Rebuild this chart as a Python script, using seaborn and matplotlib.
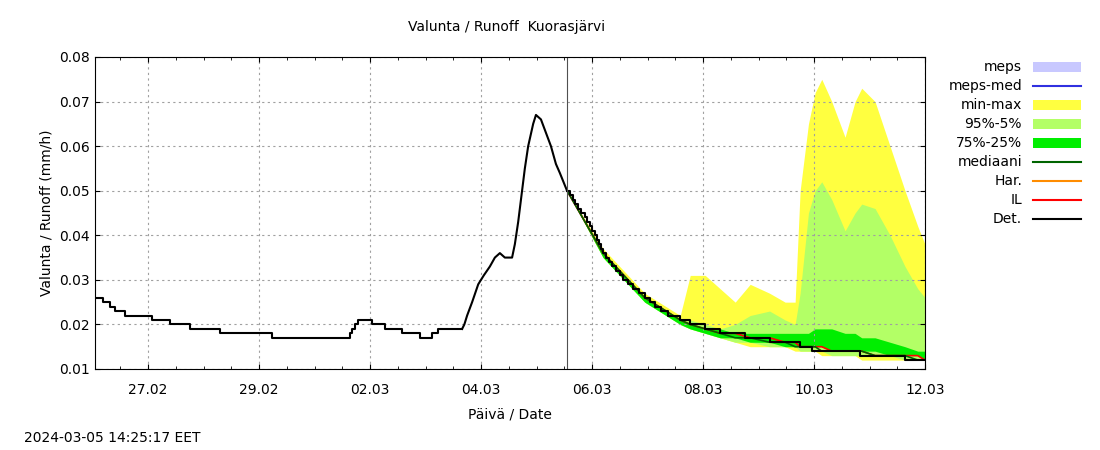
import matplotlib
matplotlib.use("Agg")
import matplotlib.pyplot as plt
import seaborn as sns
from matplotlib.patches import Rectangle
from matplotlib.lines import Line2D

# days since 27.02.2024 00:00
hist_t = [-0.95,-0.81,-0.68,-0.59,-0.41,0.07,0.40,0.76,1.30,2.23,3.55,3.64,3.68,3.73,3.78,4.04,4.27,4.58,4.90,5.12,5.23,5.66]
hist_v = [0.026,0.025,0.024,0.023,0.022,0.021,0.020,0.019,0.018,0.017,0.017,0.018,0.019,0.020,0.021,0.020,0.019,0.018,0.017,0.018,0.019,0.019]
peak_t = [5.66,5.70,5.75,5.84,5.95,6.05,6.16,6.25,6.34,6.43,6.56,6.61,6.67,6.74,6.79,6.85,6.94,6.99,7.08,7.17,7.26,7.35,7.42,7.55]
peak_v = [0.019,0.020,0.022,0.025,0.029,0.031,0.033,0.035,0.036,0.035,0.035,0.038,0.043,0.050,0.055,0.060,0.065,0.067,0.066,0.063,0.060,0.056,0.054,0.050]
rec_t = [7.55,7.60,7.65,7.69,7.75,7.81,7.87,7.91,7.96,8.00,8.05,8.09,8.12,8.16,8.20,8.25,8.31,8.36,8.43,8.50,8.56,8.65,8.74,8.85,8.95,9.05,9.14,9.25,9.37,9.59,9.77,10.04,10.31,10.76,11.21,11.75,11.96,12.83,13.64,14.0]
rec_v = [0.050,0.049,0.048,0.047,0.046,0.045,0.044,0.043,0.042,0.041,0.040,0.039,0.038,0.037,0.036,0.035,0.034,0.033,0.032,0.031,0.030,0.029,0.028,0.027,0.026,0.025,0.024,0.023,0.022,0.021,0.020,0.019,0.018,0.017,0.016,0.015,0.014,0.013,0.012,0.012]

fc_t = [7.55,8.2,8.95,9.59,9.77,10.04,10.31,10.58,10.85,11.2,11.48,11.66,11.75,11.9,12.02,12.14,12.32,12.56,12.74,12.86,13.1,13.37,13.64,13.87,14.0]
fc_max = [0.050,0.037,0.027,0.022,0.031,0.031,0.028,0.025,0.029,0.027,0.025,0.025,0.050,0.065,0.072,0.075,0.070,0.062,0.070,0.073,0.070,0.060,0.050,0.042,0.038]
fc_min = [0.050,0.035,0.025,0.020,0.019,0.018,0.017,0.016,0.015,0.015,0.015,0.014,0.014,0.014,0.014,0.013,0.013,0.013,0.013,0.012,0.012,0.012,0.012,0.012,0.012]
fc_p95 = [0.050,0.036,0.026,0.021,0.021,0.020,0.019,0.020,0.022,0.023,0.021,0.020,0.027,0.045,0.050,0.052,0.048,0.041,0.045,0.047,0.046,0.040,0.033,0.028,0.026]
fc_p5 = [0.050,0.035,0.025,0.020,0.019,0.018,0.017,0.016,0.016,0.015,0.015,0.015,0.014,0.014,0.014,0.014,0.013,0.013,0.013,0.013,0.013,0.013,0.012,0.012,0.012]
fc_p75 = [0.050,0.036,0.026,0.021,0.020,0.019,0.019,0.018,0.018,0.018,0.018,0.018,0.018,0.018,0.019,0.019,0.019,0.018,0.018,0.017,0.017,0.016,0.015,0.014,0.014]
fc_p25 = [0.050,0.035,0.025,0.020,0.019,0.018,0.017,0.017,0.016,0.016,0.015,0.015,0.015,0.015,0.015,0.015,0.014,0.014,0.014,0.014,0.014,0.013,0.013,0.013,0.012]
fc_med = [0.050,0.036,0.026,0.021,0.020,0.019,0.018,0.017,0.017,0.016,0.016,0.015,0.015,0.015,0.015,0.014,0.014,0.014,0.014,0.014,0.013,0.013,0.013,0.012,0.012]
fc_il = [0.050,0.036,0.026,0.021,0.020,0.019,0.018,0.018,0.017,0.017,0.016,0.016,0.015,0.015,0.015,0.015,0.014,0.014,0.014,0.014,0.013,0.013,0.013,0.013,0.012]

tick_pos = [0, 2, 4, 6, 8, 10, 12, 14]
tick_lab = ["27.02", "29.02", "02.03", "04.03", "06.03", "08.03", "10.03", "12.03"]
now_t = 7.55

plt.rcParams["font.family"] = "DejaVu Sans"
fig = plt.figure(figsize=(11, 4.5), dpi=100)
ax = fig.add_axes([95/1100, 1-369/450, 830/1100, 312/450])

ax.fill_between(fc_t, fc_min, fc_max, color="#ffff40", lw=0)
ax.fill_between(fc_t, fc_p5, fc_p95, color="#b3ff66", lw=0)
ax.fill_between(fc_t, fc_p25, fc_p75, color="#00ee00", lw=0)
ax.plot(fc_t, fc_il, color="#ff0000", lw=1.2)
ax.plot(fc_t, fc_med, color="#006400", lw=1.2)
ax.step(hist_t, hist_v, where="post", color="black", lw=1.5)
sns.lineplot(x=peak_t, y=peak_v, ax=ax, color="black", lw=1.5, estimator=None, sort=False)
ax.step(rec_t, rec_v, where="post", color="black", lw=1.5)
ax.axvline(now_t, color="#505050", lw=0.8)

ax.set_xlim(-0.955, 14.0)
ax.set_ylim(0.01, 0.08)
ax.set_yticks([0.01,0.02,0.03,0.04,0.05,0.06,0.07,0.08])
ax.set_yticklabels(["0.01","0.02","0.03","0.04","0.05","0.06","0.07","0.08"])
ax.set_xticks(tick_pos)
ax.set_xticklabels(tick_lab)
ax.set_xticks([x*0.5 for x in range(-1, 29)], minor=True)
ax.grid(True, which="major", color="#a0a0a0", ls=(0, (2, 3)), lw=0.8)
ax.tick_params(which="both", direction="in", top=True, right=True, labelsize=10)
ax.tick_params(axis="x", pad=10)
for s in ax.spines.values():
    s.set_linewidth(0.8)
ax.set_xlabel("Päivä / Date", fontsize=10, labelpad=8)
ax.set_ylabel("Valunta / Runoff (mm/h)", fontsize=10)
fig.text(507/1100, 1-27/450, "Valunta / Runoff  Kuorasjärvi", ha="center", va="center", fontsize=10)
fig.text(24/1100, 1-438/450, "2024-03-05 14:25:17 EET", ha="left", va="center", fontsize=10)

items = [("meps", "patch", "#c8c8ff"), ("meps-med", "line", "#3030e0"), ("min-max", "patch", "#ffff40"),
         ("95%-5%", "patch", "#b3ff66"), ("75%-25%", "patch", "#00ee00"), ("mediaani", "line", "#006400"),
         ("Har.", "line", "#ff8c00"), ("IL", "line", "#ff0000"), ("Det.", "line", "black")]
for i, (lab, kind, col) in enumerate(items):
    y = 1 - (67 + 19*i)/450
    fig.text(1022/1100, y, lab, ha="right", va="center", fontsize=10)
    if kind == "patch":
        fig.patches.append(Rectangle((1033/1100, y-5/450), 48/1100, 10/450, transform=fig.transFigure, color=col, lw=0))
    else:
        fig.lines.append(Line2D([1033/1100, 1081/1100], [y, y], transform=fig.transFigure, color=col, lw=1.5))

fig.savefig("out.png", dpi=100)
